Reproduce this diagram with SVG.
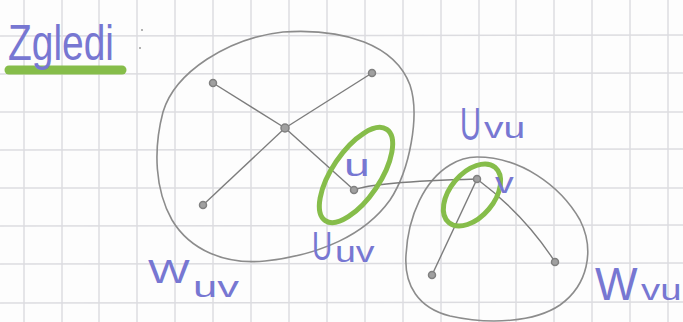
<svg xmlns="http://www.w3.org/2000/svg" width="683" height="322" viewBox="0 0 683 322">
<style>
.grid line{stroke:#dcdce0;stroke-width:1.5}
.blob{fill:none;stroke:#8c8c8c;stroke-width:1.6}
.edge{fill:none;stroke:#7c7c7c;stroke-width:1.4}
.node{fill:#a0a0a0;stroke:#808080;stroke-width:1.5}
.hl{fill:none;stroke:#86bd4a;stroke-width:5}
.lbl{font-family:"Liberation Sans",Arial,sans-serif;fill:#7777d2}
</style>
<rect width="683" height="322" fill="#fdfdfd"/>
<g class="grid">
<line x1="24" y1="0" x2="24" y2="322"/><line x1="62" y1="0" x2="62" y2="322"/><line x1="99" y1="0" x2="99" y2="322"/><line x1="137" y1="0" x2="137" y2="322"/><line x1="175" y1="0" x2="175" y2="322"/><line x1="213" y1="0" x2="213" y2="322"/><line x1="251" y1="0" x2="251" y2="322"/><line x1="289" y1="0" x2="289" y2="322"/><line x1="327" y1="0" x2="327" y2="322"/><line x1="365" y1="0" x2="365" y2="322"/><line x1="403" y1="0" x2="403" y2="322"/><line x1="441" y1="0" x2="441" y2="322"/><line x1="479" y1="0" x2="479" y2="322"/><line x1="516" y1="0" x2="516" y2="322"/><line x1="554" y1="0" x2="554" y2="322"/><line x1="592" y1="0" x2="592" y2="322"/><line x1="630" y1="0" x2="630" y2="322"/><line x1="668" y1="0" x2="668" y2="322"/>
<line x1="0" y1="36" x2="683" y2="35"/><line x1="0" y1="74" x2="683" y2="73"/><line x1="0" y1="112" x2="683" y2="112"/><line x1="0" y1="150" x2="683" y2="149"/><line x1="0" y1="188" x2="683" y2="188"/><line x1="0" y1="226" x2="683" y2="225"/><line x1="0" y1="264" x2="683" y2="263"/><line x1="0" y1="303" x2="683" y2="302"/>
</g>
<g id="title">
<line x1="9" y1="70" x2="122" y2="70" stroke="#86bd4a" stroke-width="9" stroke-linecap="round"/>
<text class="lbl" x="8" y="60" font-size="50" textLength="106" lengthAdjust="spacingAndGlyphs">Zgledi</text>
<circle cx="142" cy="30" r="1" fill="#999"/><circle cx="140" cy="48" r="1" fill="#999"/>
</g>
<g id="W_uv"><path class="blob" d="M283,32 C345,28 395,45 410,85 C420,115 410,170 390,200 C365,235 320,255 265,261 C225,265 190,250 172,220 C155,190 153,150 163,112 C175,72 228,38 283,32 Z"/>
<text class="lbl" font-size="34" transform="translate(148,283) scale(1.3,1)">W</text><text class="lbl" font-size="30" transform="translate(193,297) scale(1.45,1)">uv</text></g>
<g id="W_vu"><path class="blob" d="M477,157 C520,157 560,185 580,220 C595,250 588,285 560,305 C535,322 490,325 450,316 C418,308 404,285 406,255 C408,215 425,180 450,165 C458,160 467,157 477,157 Z"/>
<text class="lbl" font-size="46" transform="translate(595,300) scale(0.98,1)">W</text><text class="lbl" font-size="30" transform="translate(641,300) scale(1.28,1)">vu</text></g>
<g id="connectors">
<line class="edge" x1="213" y1="83" x2="285" y2="128"/>
<line class="edge" x1="372" y1="73" x2="285" y2="128"/>
<line class="edge" x1="203" y1="205" x2="285" y2="128"/>
<line class="edge" x1="285" y1="128" x2="354" y2="190"/>
<path class="edge" d="M354,190 Q372,182 477,179"/>
<line class="edge" x1="477" y1="179" x2="432" y2="275"/>
<path class="edge" d="M477,179 Q525,215 555,262"/>
</g>
<g id="n1"><circle class="node" cx="213" cy="83" r="3.5"/></g>
<g id="n2"><circle class="node" cx="372" cy="73" r="3.5"/></g>
<g id="n3"><circle class="node" cx="285" cy="128" r="4"/></g>
<g id="n4"><circle class="node" cx="203" cy="205" r="3.5"/></g>
<g id="n5"><circle class="node" cx="432" cy="275" r="3.5"/></g>
<g id="n6"><circle class="node" cx="555" cy="262" r="3.5"/></g>
<g id="u"><ellipse class="hl" cx="356" cy="175" rx="55" ry="24" transform="rotate(-56 356 175)"/><circle class="node" cx="354" cy="190" r="3.5"/>
<text class="lbl" font-size="32" transform="translate(344,176) scale(1.45,1)">u</text></g>
<g id="v"><ellipse class="hl" cx="472" cy="195" rx="36" ry="22" transform="rotate(-50 472 195)"/><circle class="node" cx="477" cy="179" r="3.5"/>
<text class="lbl" font-size="30" transform="translate(495,193) scale(1.25,1)">v</text></g>
<g id="U_uv"><text class="lbl" font-size="40" transform="translate(312,260) scale(0.7,1)">U</text><text class="lbl" font-size="30" transform="translate(335,262) scale(1.25,1)">uv</text></g>
<g id="U_vu"><text class="lbl" font-size="46" transform="translate(460,140) scale(0.63,1)">U</text><text class="lbl" font-size="30" transform="translate(484,138) scale(1.3,1)">vu</text></g>
</svg>
